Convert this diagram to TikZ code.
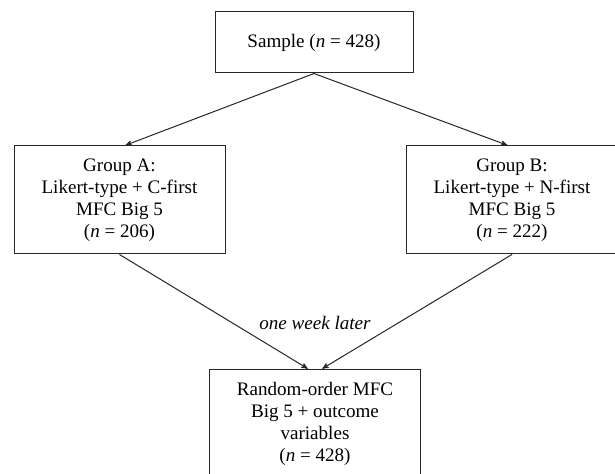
\documentclass[tikz,border=0pt]{standalone}
\usepackage{fontspec}
\setmainfont{Liberation Serif}
\usepackage{tikz}
\usetikzlibrary{arrows,calc,positioning,shapes}
\tikzset{
  flowbox/.style = {draw, rectangle, align=center, inner sep=2pt, text centered,
  font=\fontsize{14.3}{16.5}\selectfont, line width=0.75pt, draw=black!85},
  samplebox/.style = {flowbox, minimum width=148.5pt, minimum height=45.75pt},
  groupbox/.style = {flowbox, minimum width=158.25pt, minimum height=81pt}
}

\begin{document}
\begin{tikzpicture}[->,>=stealth',x=0.75pt,y=-0.75pt,
        	link/.style={line width=0.75pt, draw=black!85, shorten >=0.5pt}]
		    \useasboundingbox (0,0) rectangle (615,474);
		    \node [samplebox] (sample) at (314,42.5) {Sample (\textit{n} = 428)};
		    \node [groupbox] (grpA) at (119.5,200) {Group A:\\ Likert-type + C-first\\ MFC Big 5\\ (\textit{n} = 206)};
		    \node [groupbox] (grpB) at (512,200) {Group B:\\ Likert-type + N-first\\ MFC Big 5\\ (\textit{n} = 222)};
		    \node [groupbox] (final) at (315,423.5) {Random-order MFC\\ Big 5 + outcome\\ variables\\ (\textit{n} = 428)};
		    \node [draw=none, font=\fontsize{14.3}{16}\selectfont\itshape] (lag) at (315,323) {one week later};
		    \draw[link] (sample.south) -- ([xshift=4pt]grpA.north);
		    \draw[link] (sample.south) -- ([xshift=-3pt]grpB.north);
		    \draw[link] (grpA.south) -- ([xshift=-5pt]final.north);
		    \draw[link] (grpB.south) -- ([xshift=5pt]final.north);
		\end{tikzpicture}
\end{document}
